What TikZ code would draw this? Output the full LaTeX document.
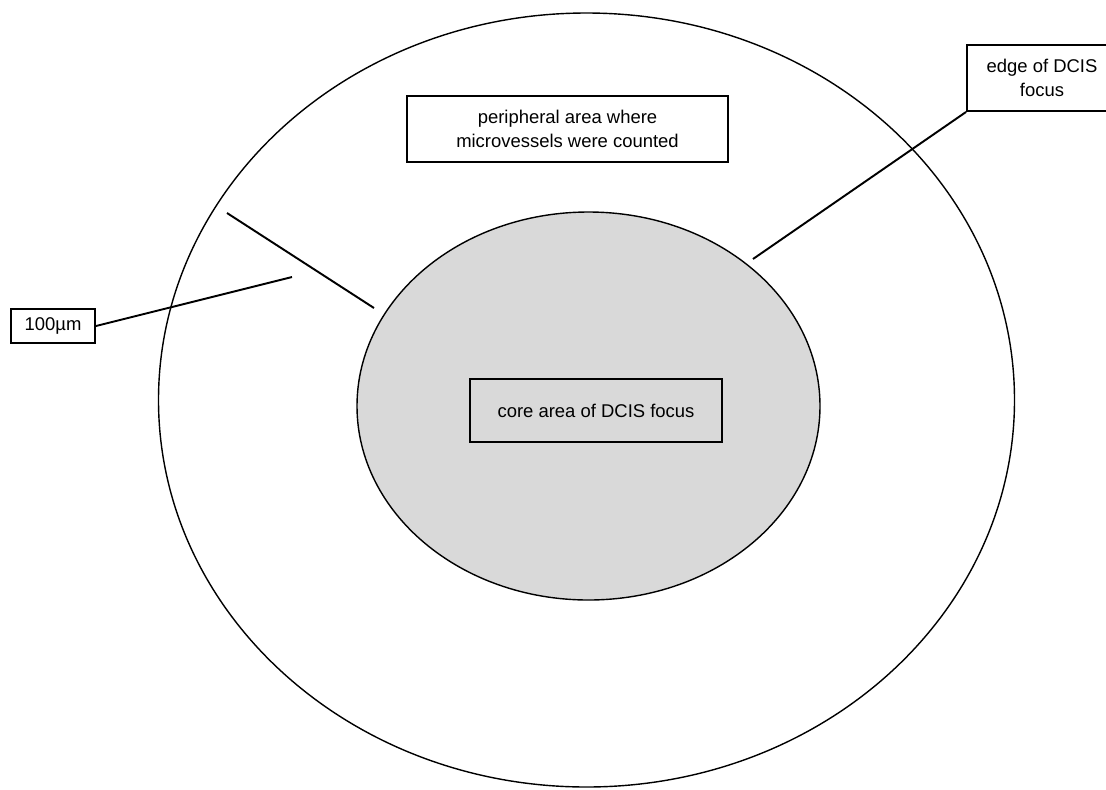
\documentclass[tikz,border=0pt]{standalone}
\usepackage{fontspec}
\setmainfont{Liberation Sans}
\begin{document}
\begin{tikzpicture}[x=0.02cm,y=-0.02cm,
  label box/.style={draw,line width=1.1pt,fill=white,align=center,inner sep=0pt,
    font=\fontsize{10.5}{13.6}\selectfont},
  lead/.style={line width=1.1pt}]
\useasboundingbox (0,0) rectangle (1106,789);
\draw[line width=0.8pt] (586.5,400) ellipse [x radius=428, y radius=387];
\draw[line width=0.8pt,fill=gray!30] (588.5,406) ellipse [x radius=231.5, y radius=194];
\node[label box,minimum width=6.42cm,minimum height=1.32cm] (periph) at (567.5,129) {peripheral area where\\microvessels were counted};
\node[label box,minimum width=3cm,minimum height=1.32cm] (edge) at (1042,78) {edge of DCIS\\focus};
\node[label box,minimum width=1.68cm,minimum height=0.68cm] (scale) at (53,326) {100µm};
\node[label box,fill=none,minimum width=5.04cm,minimum height=1.26cm] (core) at (596,410.5) {core area of DCIS focus};
\coordinate (outer mark) at (227,213);
\coordinate (inner mark) at (374,308);
\coordinate (tick) at (292,277);
\coordinate (rim) at (753,259);
\draw[lead] (outer mark) -- (inner mark);
\draw[lead] (scale.east) -- (tick);
\draw[lead] (edge.south west) -- (rim);
\end{tikzpicture}
\end{document}
